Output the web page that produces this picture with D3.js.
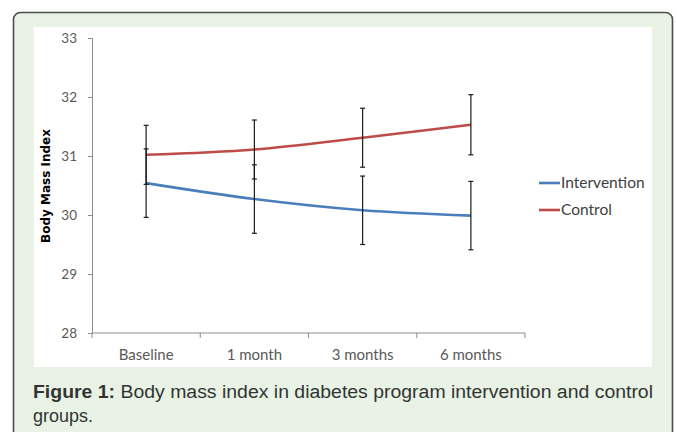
<!DOCTYPE html>
<html>
<head>
<meta charset="utf-8">
<script src="https://cdn.jsdelivr.net/npm/d3@7"></script>
<style>
  body { margin: 0; background: #ffffff; }
  svg { display: block; }
</style>
</head>
<body>
<div id="chart"></div>
<script>
// Data
var categories = ["Baseline", "1 month", "3 months", "6 months"];
var interventionMean = [30.54, 30.27, 30.08, 29.99];
var interventionErr = [0.58, 0.58, 0.58, 0.58];
var controlMean = [31.02, 31.11, 31.31, 31.53];
var controlErr = [0.50, 0.50, 0.50, 0.51];
var yTicks = [28, 29, 30, 31, 32, 33];

var seriesNames = ["Intervention", "Control"];
var seriesColors = ["#4a7ebb", "#be4b48"];

var svgWidth = 677;
var svgHeight = 432;

var svg = d3.select("#chart")
  .append("svg")
  .attr("width", svgWidth)
  .attr("height", svgHeight);

// Green panel with rounded border
svg.append("rect")
  .attr("x", 13.5)
  .attr("y", 12.5)
  .attr("width", 659)
  .attr("height", 440)
  .attr("rx", 7)
  .attr("fill", "#e8f3e6")
  .attr("stroke", "#4d4d4d")
  .attr("stroke-width", 1.6);

// White chart image area
svg.append("rect")
  .attr("x", 34)
  .attr("y", 27)
  .attr("width", 618)
  .attr("height", 340)
  .attr("fill", "#ffffff");

var xScale = d3.scaleBand()
  .domain(categories)
  .range([92, 525]);

var yScale = d3.scaleLinear()
  .domain([28, 33])
  .range([333, 38]);

var font = "Lato, 'Open Sans', sans-serif";

// Y axis
var yAxis = d3.axisLeft(yScale).tickValues(yTicks).tickFormat(d3.format("d")).tickSize(4).tickPadding(11);
var yG = svg.append("g")
  .attr("transform", "translate(92,0)")
  .call(yAxis);
yG.select(".domain").attr("stroke", "#8c8c8c");
yG.selectAll(".tick line").attr("stroke", "#8c8c8c");
yG.selectAll(".tick text")
  .attr("fill", "#595959")
  .style("font-family", font)
  .style("font-size", "13.5px");

// X axis with ticks between categories
var xAxis = d3.axisBottom(xScale).tickSize(0).tickPadding(16);
var xG = svg.append("g")
  .attr("transform", "translate(0,333)")
  .call(xAxis);
xG.select(".domain").attr("stroke", "#8c8c8c").attr("d", "M92,0H525");
xG.selectAll(".tick text")
  .attr("fill", "#595959")
  .style("font-family", font)
  .style("font-size", "15px");

var boundaries = categories.map(function(c) { return xScale(c); }).concat([xScale.range()[1]]);
svg.append("g")
  .selectAll("line")
  .data(boundaries)
  .enter()
  .append("line")
  .attr("x1", d => d)
  .attr("x2", d => d)
  .attr("y1", 333)
  .attr("y2", 338)
  .attr("stroke", "#8c8c8c");

// Y axis title
svg.append("text")
  .attr("transform", "translate(50,186) rotate(-90)")
  .attr("text-anchor", "middle")
  .style("font-family", "'DejaVu Sans', sans-serif")
  .style("font-weight", "bold")
  .style("font-size", "12px")
  .attr("fill", "#000")
  .text("Body Mass Index");

var cx = function(i) { return xScale(categories[i]) + xScale.bandwidth() / 2; };

var series = [
  { name: seriesNames[0], mean: interventionMean, err: interventionErr, color: seriesColors[0] },
  { name: seriesNames[1], mean: controlMean, err: controlErr, color: seriesColors[1] }
];

var line = d3.line()
  .x((d, i) => cx(i))
  .y(d => yScale(d))
  .curve(d3.curveCatmullRom.alpha(0.5));

// Lines
series.forEach(function(s) {
  svg.append("path")
    .datum(s.mean)
    .attr("d", line)
    .attr("fill", "none")
    .attr("stroke", s.color)
    .attr("stroke-width", 2.6);
});

// Error bars on top
series.forEach(function(s) {
  var g = svg.append("g").attr("stroke", "#1a1a1a").attr("stroke-width", 1.2);
  s.mean.forEach(function(m, i) {
    var x = cx(i);
    var top = yScale(m + s.err[i]);
    var bot = yScale(m - s.err[i]);
    g.append("line").attr("x1", x).attr("x2", x).attr("y1", top).attr("y2", bot);
    g.append("line").attr("x1", x - 2.5).attr("x2", x + 2.5).attr("y1", top).attr("y2", top);
    g.append("line").attr("x1", x - 2.5).attr("x2", x + 2.5).attr("y1", bot).attr("y2", bot);
  });
});

// Legend
var legend = svg.append("g");
series.forEach(function(s, i) {
  var y = 183 + i * 27;
  legend.append("line")
    .attr("x1", 539).attr("x2", 560)
    .attr("y1", y).attr("y2", y)
    .attr("stroke", s.color)
    .attr("stroke-width", 2.6);
  legend.append("text")
    .attr("x", 561)
    .attr("y", y + 5)
    .style("font-family", font)
    .style("font-size", "15.5px")
    .attr("fill", "#404040")
    .text(s.name);
});

// Caption
var capFont = "'Liberation Sans', Arial, sans-serif";
var cap = svg.append("text")
  .attr("x", 33)
  .attr("y", 398)
  .attr("textLength", 620)
  .attr("lengthAdjust", "spacingAndGlyphs")
  .style("font-family", capFont)
  .style("font-size", "18px")
  .attr("fill", "#333333");
cap.append("tspan").style("font-weight", "bold").text("Figure 1:");
cap.append("tspan").text(" Body mass index in diabetes program intervention and control");

svg.append("text")
  .attr("x", 33)
  .attr("y", 422)
  .attr("textLength", 60)
  .attr("lengthAdjust", "spacingAndGlyphs")
  .style("font-family", capFont)
  .style("font-size", "18px")
  .attr("fill", "#333333")
  .text("groups.");
</script>
</body>
</html>
